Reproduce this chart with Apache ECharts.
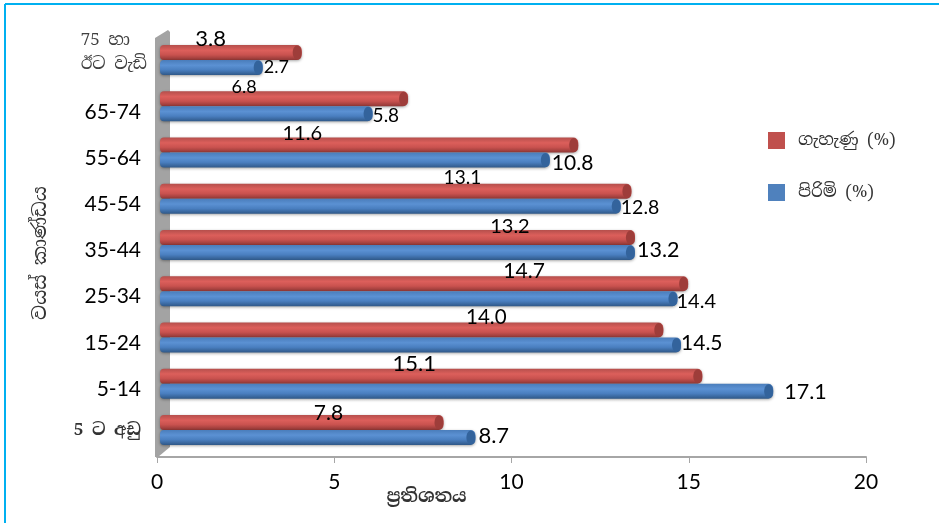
<!DOCTYPE html>
<html>
<head>
<meta charset="utf-8">
<style>html,body{margin:0;padding:0;background:#fff}#c{width:939px;height:523px}</style>
<script src="https://cdn.jsdelivr.net/npm/echarts@6/dist/echarts.min.js"></script>
</head>
<body>
<div id="c"></div>
<script>
// Data, listed bottom to top as on the axis
const categories = ['5 ට අඩු', '5-14', '15-24', '25-34', '35-44', '45-54', '55-64', '65-74', '75 හා\nඊට වැඩි'];
const female = [7.8, 15.1, 14.0, 14.7, 13.2, 13.1, 11.6, 6.8, 3.8];
const male = [8.7, 17.1, 14.5, 14.4, 13.2, 12.8, 10.8, 5.8, 2.7];
const femaleName = 'ගැහැණු (%)';
const maleName = 'පිරිමි (%)';
const xTitle = 'ප්‍රතිශතය';
const yTitle = 'වයස් කාණ්ඩය';

// Hand-placed label layout of the original (pixels relative to bar end / pair centre)
const femaleLabelDx = [-105, -278, -167, -154, -115, -159, -266, -154, -81];
const femaleLabelDy = [-17, -20, -20, -20, -18, -21, -19, -19, -21];
const femaleLabelSize = [21, 22, 20.5, 21, 20, 19, 20, 18, 22];
const maleLabelDx = [3, 11, 0, -1, 2, 0, 2, 0, 1];
const maleLabelDy = [6, 8, 5.5, 10, 5, 9, 10.5, 10, 7];
const maleLabelSize = [22, 21.5, 21, 20, 21.5, 19.5, 21, 19, 18];

const sansFont = 'Lato, "Noto Sans", sans-serif';
const sinhalaFont = '"Noto Serif Sinhala", "Noto Sans Sinhala", "Liberation Serif", serif';
const BAR_H = 15, FLOOR_SHIFT = 4, START = 3, CAP = 10;

function barRenderer(side, colors, capColor, labelFn) {
  return function (params, api) {
    const val = api.value(0), idx = api.value(1);
    const end = api.coord([val, idx]);
    const base = api.coord([0, idx]);
    const cy = end[1] - FLOOR_SHIFT;
    const y0 = side < 0 ? cy - BAR_H : cy;
    const x0 = base[0] + START, x1 = end[0] + CAP;
    const lab = labelFn(idx, end[0], cy, x1);
    return {
      type: 'group',
      children: [
        { type: 'rect', shape: { x: x0, y: y0, width: x1 - x0, height: BAR_H, r: [4, 5, 5, 4] },
          style: { fill: new echarts.graphic.LinearGradient(0, 0, 0, 1, [
            { offset: 0, color: colors[0] }, { offset: 0.35, color: colors[1] },
            { offset: 0.65, color: colors[2] }, { offset: 1, color: colors[3] }]),
            shadowColor: 'rgba(0,0,0,0.35)', shadowBlur: 3, shadowOffsetY: 1 } },
        { type: 'ellipse', shape: { cx: x1 - 4.5, cy: y0 + BAR_H / 2, rx: 4.5, ry: BAR_H / 2 - 0.5 },
          style: { fill: capColor } },
        { type: 'text', z2: 10, style: { x: lab.x, y: lab.y, text: lab.text, fill: '#000',
          font: lab.size + 'px ' + sansFont, align: lab.align, verticalAlign: 'middle' } }
      ]
    };
  };
}

function wallRenderer(params, api) {
  const o = api.coord([0, 0]);
  const cs = params.coordSys;
  const bottom = cs.y + cs.height, top = cs.y;
  const l = o[0] - 2, r = o[0] + 13;
  return {
    type: 'group',
    children: [
      { type: 'polygon', shape: { points: [[l, top - 3], [r - 2, top - 11], [r, top - 9], [r, bottom - 10], [l + 3, bottom], [l, bottom]] },
        style: { fill: '#a3a3a3' } }
    ]
  };
}

const chart = echarts.init(document.getElementById('c'), null, { renderer: 'canvas' });
chart.setOption({
  animation: false,
  backgroundColor: '#fff',
  grid: { left: 157, right: 73, top: 41, bottom: 66, containLabel: false },
  legend: {
    orient: 'vertical', left: 763, top: 127, itemWidth: 17, itemHeight: 17, itemGap: 35,
    icon: 'rect', data: [femaleName, maleName],
    textStyle: { fontFamily: sinhalaFont, fontSize: 17, color: '#333', padding: [0, 0, 0, 8] }
  },
  xAxis: {
    type: 'value', min: 0, max: 20, interval: 5,
    name: xTitle, nameLocation: 'middle', nameGap: 31, nameMoveOverlap: false,
    nameTextStyle: { fontFamily: sinhalaFont, fontSize: 18, color: '#333', fontWeight: 'bold', padding: [0, 170, 0, 0] },
    splitLine: { show: false },
    axisLine: { show: true, lineStyle: { color: '#a6a6a6', width: 2 } },
    axisTick: { show: true, length: 6, lineStyle: { color: '#a6a6a6' } },
    axisLabel: { fontFamily: sansFont, fontSize: 21, color: '#000', margin: 15 }
  },
  yAxis: {
    type: 'category', data: categories,
    name: yTitle, nameLocation: 'middle', nameGap: 107, nameRotate: 90,
    nameTextStyle: { fontFamily: sinhalaFont, fontSize: 19, color: '#333', padding: [0, 8, 0, 0] },
    axisLine: { show: false }, axisTick: { show: false },
    axisLabel: {
      margin: 10, align: 'right', color: '#000', fontFamily: sansFont, fontSize: 20,
      formatter: function (v) {
        if (/^[0-9-]+$/.test(v)) return '{n|' + v + '}';
        if (v.indexOf('\n') >= 0) {
          const parts = v.split('\n');
          return '{a|' + parts[0] + '}\n{b|' + parts[1] + '}\n{a| }';
        }
        return '{s|' + v + '}';
      },
      rich: {
        n: { fontFamily: sansFont, fontSize: 21, color: '#000', padding: [3, 6, 0, 0] },
        s: { fontFamily: sinhalaFont, fontSize: 17, color: '#333', fontWeight: 'bold', padding: [0, 6, 6, 0] },
        a: { fontFamily: sinhalaFont, fontSize: 17, color: '#404040', lineHeight: 24, align: 'left' },
        b: { fontFamily: sinhalaFont, fontSize: 17, color: '#404040', lineHeight: 24, align: 'left' }
      }
    }
  },
  series: [
    { type: 'custom', silent: true, data: [[0, 0]], renderItem: wallRenderer, encode: { x: 0, y: 1 }, z: 1, legendHoverLink: false, tooltip: { show: false } },
    { type: 'custom', name: maleName, z: 3, itemStyle: { color: '#4f81bd' }, encode: { x: 0, y: 1 },
      data: male.map((v, i) => [v, i]),
      renderItem: barRenderer(1, ['#4a7dbb', '#5b91d3', '#4a7fc0', '#2f5888'], '#33639c', (i, ex, cy, x1) => ({
        x: x1 + maleLabelDx[i], y: cy + maleLabelDy[i], text: male[i].toFixed(1), size: maleLabelSize[i], align: 'left' })) },
    { type: 'custom', name: femaleName, z: 2, itemStyle: { color: '#c0504d' }, encode: { x: 0, y: 1 },
      data: female.map((v, i) => [v, i]),
      renderItem: barRenderer(-1, ['#b54f4c', '#dc5f5b', '#c9524f', '#8f3735'], '#9e3d3a', (i, ex, cy) => ({
        x: ex + femaleLabelDx[i], y: cy + femaleLabelDy[i], text: female[i].toFixed(1), size: femaleLabelSize[i], align: 'center' })) }
  ],
  graphic: [
    { type: 'line', silent: true, shape: { x1: 5, y1: 4, x2: 939, y2: 4 }, style: { stroke: '#00b0f0', lineWidth: 2 } },
    { type: 'line', silent: true, shape: { x1: 5, y1: 4, x2: 5, y2: 523 }, style: { stroke: '#00b0f0', lineWidth: 2 } }
  ]
});
</script>
</body>
</html>
